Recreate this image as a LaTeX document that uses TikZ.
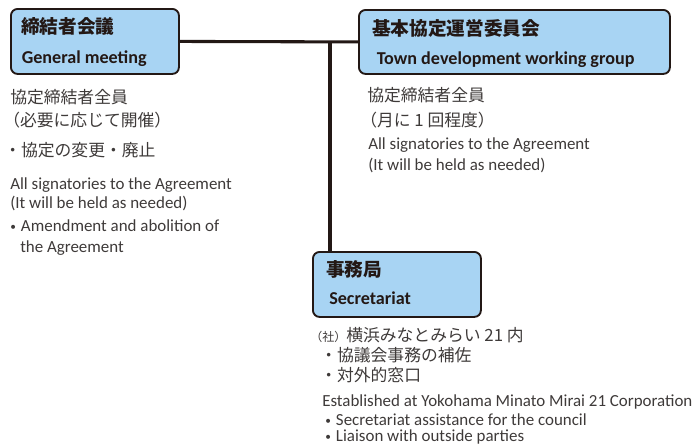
\documentclass[tikz,border=0pt]{standalone}
\usepackage{fontspec}
\setmainfont{Carlito}
\newfontfamily\jpfont{Noto Sans CJK JP}
\definecolor{boxfill}{HTML}{A8D4F3}
\definecolor{lineclr}{HTML}{231815}
\definecolor{txtclr}{HTML}{3E3A39}
\newcommand{\smallbul}{\raisebox{0.05em}{\fontsize{8.5}{8.5}\selectfont•}\hspace{0.3em}}
\tikzset{
  panel/.style={draw=lineclr, fill=boxfill, rounded corners=5pt, line width=1.4pt,
    inner sep=0pt, anchor=north west},
  headjp/.style={anchor=base west, inner sep=0pt, text=lineclr, font=\jpfont\bfseries\fontsize{14}{14}\selectfont},
  headen/.style={anchor=base west, inner sep=0pt, text=lineclr, font=\bfseries\fontsize{13.6}{14}\selectfont},
  bodyjp/.style={anchor=base west, inner sep=0pt, text=txtclr, font=\jpfont\fontsize{12.6}{13}\selectfont},
  bodyen/.style={anchor=base west, inner sep=0pt, text=txtclr, font=\fontsize{12.7}{13}\selectfont},
  link/.style={draw=lineclr, line width=2.3pt}
}
\begin{document}
\begin{tikzpicture}[x=0.75pt, y=-0.75pt]
    \useasboundingbox (0,0) rectangle (696,446);
    % boxes
    \node[panel, minimum width=126pt, minimum height=48.75pt] (meeting) at (10,8) {};
    \node[panel, minimum width=233.25pt, minimum height=48pt] (group) at (358,9) {};
    \node[panel, minimum width=126pt, minimum height=48.75pt] (office) at (312,251) {};
    % connectors
    \coordinate (joint) at (330,41);
    \draw[link] (meeting.east) -- (group.west);
    \draw[link] (joint) -- (joint |- office.north);
    % box titles
    \node[headjp] (meetingjp) at (21,33.5) {締結者会議};
    \node[headen] (meetingen) at (21.5,63.5) {General meeting};
    \node[headjp] (groupjp) at (372,35) {基本協定運営委員会};
    \node[headen] (groupen) at (376.5,64) {Town development working group};
    \node[headjp] (officejp) at (326,276.5) {事務局};
    \node[headen] (officeen) at (329,304) {Secretariat};
    % general meeting notes
    \node[bodyjp] (gmA) at (10,103) {協定締結者全員};
    \node[bodyjp] (gmB) at (3,126) {（必要に応じて開催）};
    \node[bodyjp] (gmC) at (4,156) {・協定の変更・廃止};
    \node[bodyen] (gmD) at (10,189) {All signatories to the Agreement};
    \node[bodyen] (gmE) at (10,208) {(It will be held as needed)};
    \node[bodyen] (gmF) at (10,231) {\smallbul Amendment and abolition of};
    \node[bodyen] (gmG) at (20,252) {the Agreement};
    % working group notes
    \node[bodyjp] (wgA) at (367,101.5) {協定締結者全員};
    \node[bodyjp] (wgB) at (360,126) {（月に 1 回程度）};
    \node[bodyen] (wgC) at (368,149.5) {All signatories to the Agreement};
    \node[bodyen] (wgD) at (368,170) {(It will be held as needed)};
    % secretariat notes
    \node[bodyjp] (secA) at (310,341.5) {{\fontsize{9}{9}\selectfont（社）}横浜みなとみらい 21 内};
    \node[bodyjp] (secB) at (320,361.5) {・協議会事務の補佐};
    \node[bodyjp] (secC) at (320,381.5) {・対外的窓口};
    \node[bodyen] (secD) at (322,406.5) {Established at Yokohama Minato Mirai 21 Corporation};
    \node[bodyen] (secE) at (325,425.5) {\smallbul Secretariat assistance for the council};
    \node[bodyen] (secF) at (325,441.5) {\smallbul Liaison with outside parties};
\end{tikzpicture}
\end{document}
